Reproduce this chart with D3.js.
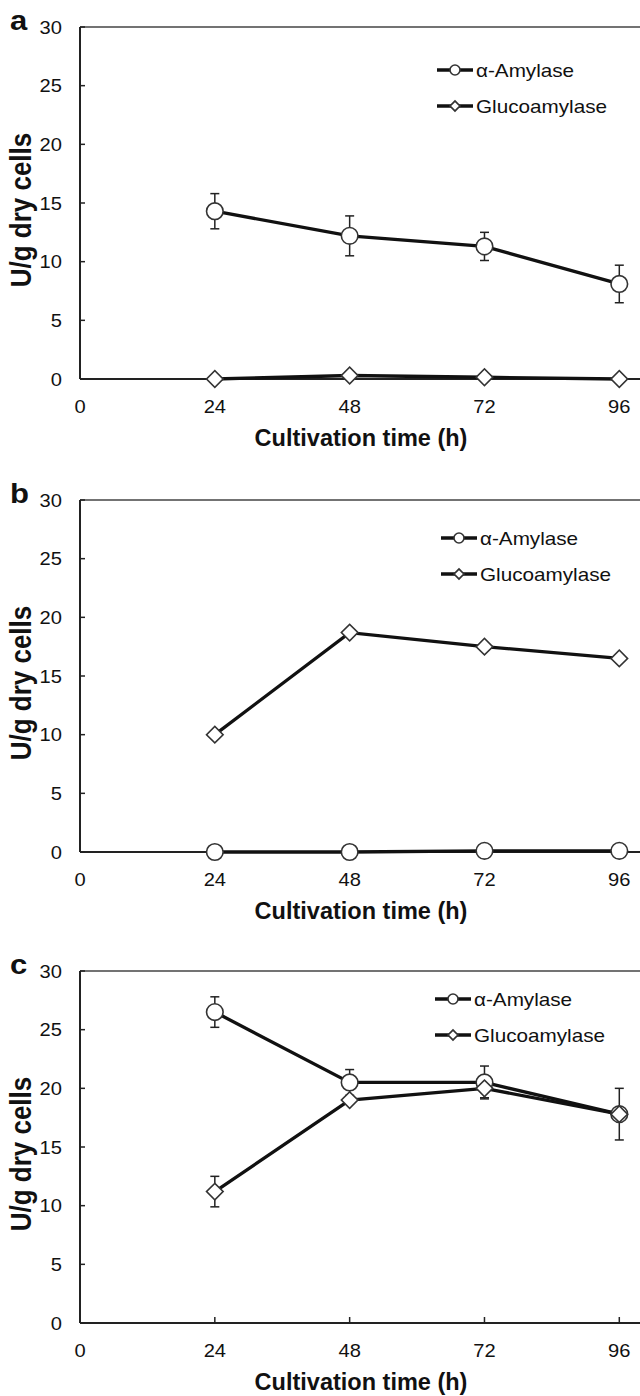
<!DOCTYPE html>
<html>
<head>
<meta charset="utf-8">
<script src="https://cdn.jsdelivr.net/npm/d3@7"></script>
<style>
  body { margin: 0; background: #fff; }
  text { font-family: "Liberation Sans", Arial, sans-serif; fill: #111; }
</style>
</head>
<body>
<script>
var width = 640;
var height = 1396;

// data
var hours = [24, 48, 72, 96];
var xTicks = [0, 24, 48, 72, 96];
var yTicks = [0, 5, 10, 15, 20, 25, 30];
var panelLabels = ["a", "b", "c"];
var seriesNames = ["\u03b1-Amylase", "Glucoamylase"];

var amylaseA = [14.3, 12.2, 11.3, 8.1];
var amylaseErrA = [1.5, 1.7, 1.2, 1.6];
var glucoA = [0, 0.3, 0.15, 0];
var glucoErrA = [0, 0, 0, 0];

var amylaseB = [0, 0, 0.1, 0.1];
var amylaseErrB = [0, 0, 0, 0];
var glucoB = [10.0, 18.7, 17.5, 16.5];
var glucoErrB = [0, 0, 0, 0];

var amylaseC = [26.5, 20.5, 20.5, 17.8];
var amylaseErrC = [1.3, 1.1, 1.4, 2.2];
var glucoC = [11.2, 19.0, 20.0, 17.8];
var glucoErrC = [1.3, 0.3, 0.8, 0.5];

var panels = [
  { top: 27, legendY: 43, amy: amylaseA, amyErr: amylaseErrA, glu: glucoA, gluErr: glucoErrA },
  { top: 500, legendY: 38, amy: amylaseB, amyErr: amylaseErrB, glu: glucoB, gluErr: glucoErrB },
  { top: 971, legendY: 28, amy: amylaseC, amyErr: amylaseErrC, glu: glucoC, gluErr: glucoErrC }
];

var plotH = 352;
var left = 80;
var stretch = 1.15; // the figure is a bit wider than tall

var svg = d3.select("body").append("svg")
  .attr("width", width).attr("height", height);

var x = d3.scaleLinear().domain([0, 96]).range([left, 619.3]);

function label(g, tx, ty, str, size, anchor, bold, sx) {
  return g.append("text")
    .attr("transform", "translate(" + tx + "," + ty + ") scale(" + (sx || stretch) + ",1)")
    .attr("text-anchor", anchor)
    .style("font-size", size + "px")
    .style("font-weight", bold ? "bold" : "normal")
    .text(str);
}

function drawMarker(g, cx, cy, kind, r) {
  if (kind === 0) {
    g.append("circle").attr("cx", cx).attr("cy", cy).attr("r", r)
      .style("fill", "#fff").style("stroke", "#333").style("stroke-width", 1.6);
  } else {
    g.append("path")
      .attr("d", d3.symbol().type(d3.symbolSquare).size(2 * r * r)())
      .attr("transform", "translate(" + cx + "," + cy + ") rotate(45)")
      .style("fill", "#fff").style("stroke", "#333").style("stroke-width", 1.6);
  }
}

panels.forEach(function (p, i) {
  var g = svg.append("g");
  var y = d3.scaleLinear().domain([0, 30]).range([p.top + plotH, p.top]);
  var bottom = p.top + plotH;

  // frame: top border, left axis, bottom axis
  g.append("line").attr("x1", left).attr("x2", width).attr("y1", p.top).attr("y2", p.top)
    .style("stroke", "#444").style("stroke-width", 1.5);
  g.append("line").attr("x1", left).attr("x2", left).attr("y1", p.top).attr("y2", bottom)
    .style("stroke", "#222").style("stroke-width", 2);
  g.append("line").attr("x1", left).attr("x2", width).attr("y1", bottom).attr("y2", bottom)
    .style("stroke", "#222").style("stroke-width", 2);

  // inward ticks
  g.selectAll(".yt").data(yTicks).enter().append("line")
    .attr("x1", left).attr("x2", left + 5)
    .attr("y1", function (d) { return y(d); }).attr("y2", function (d) { return y(d); })
    .style("stroke", "#222").style("stroke-width", 1.5);
  g.selectAll(".xt").data(hours).enter().append("line")
    .attr("x1", function (d) { return x(d); }).attr("x2", function (d) { return x(d); })
    .attr("y1", bottom).attr("y2", bottom - 6)
    .style("stroke", "#222").style("stroke-width", 1.5);

  yTicks.forEach(function (t) {
    label(g, 62, y(t) + 6.5, t, 17.5, "end", false);
  });
  xTicks.forEach(function (t) {
    label(g, x(t), bottom + 33.5, t, 17.5, "middle", false);
  });

  label(g, 361, bottom + 67, "Cultivation time (h)", 23.5, "middle", true, 1.0);

  g.append("text")
    .attr("transform", "translate(31," + (p.top + plotH / 2 + 7) + ") rotate(-90) scale(1," + stretch + ")")
    .attr("text-anchor", "middle")
    .style("font-size", "26px").style("font-weight", "bold")
    .text("U/g dry cells");

  label(g, 10, p.top + 3, panelLabels[i], 27, "start", true);

  // series
  var sets = [
    { vals: p.amy, err: p.amyErr, kind: 0 },
    { vals: p.glu, err: p.gluErr, kind: 1 }
  ];
  var line = d3.line().x(function (d, k) { return x(hours[k]); }).y(function (d) { return y(d); });

  sets.forEach(function (s) {
    s.vals.forEach(function (v, k) {
      var e = s.err[k];
      if (e > 0) {
        var cx = x(hours[k]);
        g.append("line").attr("x1", cx).attr("x2", cx).attr("y1", y(v - e)).attr("y2", y(v + e))
          .style("stroke", "#222").style("stroke-width", 1.5);
        [v - e, v + e].forEach(function (c) {
          g.append("line").attr("x1", cx - 4.5).attr("x2", cx + 4.5).attr("y1", y(c)).attr("y2", y(c))
            .style("stroke", "#222").style("stroke-width", 1.5);
        });
      }
    });
  });
  sets.forEach(function (s) {
    g.append("path").datum(s.vals).attr("d", line)
      .style("fill", "none").style("stroke", "#111").style("stroke-width", 3.3);
  });
  sets.forEach(function (s) {
    s.vals.forEach(function (v, k) {
      drawMarker(g, x(hours[k]), y(v), s.kind, 8.3);
    });
  });

  // legend
  var lx = [437, 441, 435][i];
  seriesNames.forEach(function (name, k) {
    var ly = p.top + p.legendY + k * 36;
    g.append("line").attr("x1", lx).attr("x2", lx + 36).attr("y1", ly).attr("y2", ly)
      .style("stroke", "#111").style("stroke-width", 3.3);
    drawMarker(g, lx + 18, ly, k, 5);
    label(g, lx + 39, ly + 6.5, name, 18, "start", false);
  });
});
</script>
</body>
</html>
